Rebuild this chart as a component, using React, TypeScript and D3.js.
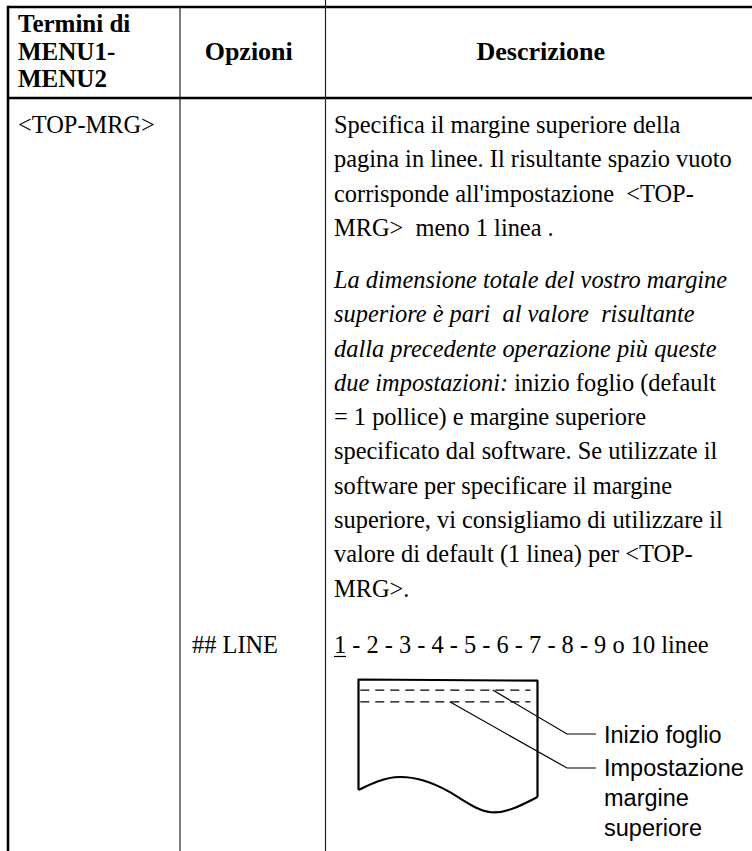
import { useEffect, useRef } from 'react';
import * as d3 from 'd3';

// header cells
const headTerms = ['Termini di', 'MENU1-', 'MENU2'];
const headOptions = 'Opzioni';
const headDesc = 'Descrizione';

// body cells
const rowTerm = '<TOP-MRG>';
const rowOption = '## LINE';
const descPara1 = [
    'Specifica il margine superiore della',
    'pagina in linee. Il risultante spazio vuoto',
    "corrisponde all'impostazione  <TOP-",
    'MRG>  meno 1 linea .',
];
// [italic part, roman part]
const descPara2: [string, string][] = [
    ['La dimensione totale del vostro margine', ''],
    ['superiore è pari  al valore  risultante', ''],
    ['dalla precedente operazione più queste', ''],
    ['due impostazioni:', ' inizio foglio (default'],
    ['', '= 1 pollice) e margine superiore'],
    ['', 'specificato dal software. Se utilizzate il'],
    ['', 'software per specificare il margine'],
    ['', 'superiore, vi consigliamo di utilizzare il'],
    ['', 'valore di default (1 linea) per <TOP-'],
    ['', 'MRG>.'],
];
const lineChoices = ['1', '2', '3', '4', '5', '6', '7', '8', '9'];
const lineLast = '10 linee';

// diagram labels
const labelTop = ['Inizio foglio'];
const labelMargin = ['Impostazione', 'margine', 'superiore'];

// paper outline in diagram units (0..100 wide, 0..100 tall)
const paperTop = [[0, 0], [100, 1]];
const paperWave = [[0, 94], [23, 83], [50, 95], [74, 113], [100, 100]];
const dashRows = [9, 19];
const leaderStarts = [[75, 9], [51, 19]];

function App() {
    const svgRef = useRef(null);

    useEffect(() => {
        draw();
    }, []);

    function draw() {
        const svg = d3.select(svgRef.current);
        svg.selectAll('*').remove();

        const W = 752;
        const H = 851;
        const col = { left: 8, c1: 180, c2: 325.5, right: W };
        const top = 7;
        const headBottom = 98;
        const serif = '"Liberation Serif", "Times New Roman", serif';
        const sans = '"Liberation Sans", Arial, sans-serif';
        const fs = 24.4;
        const hfs = 25;

        // grid lines
        const g = svg.append('g');
        g.append('line').attr('x1', col.left).attr('x2', col.right).attr('y1', top).attr('y2', top)
            .attr('stroke', '#000').attr('stroke-width', 2.6);
        g.append('line').attr('x1', col.left).attr('x2', col.right).attr('y1', headBottom).attr('y2', headBottom)
            .attr('stroke', '#000').attr('stroke-width', 2.6);
        g.append('line').attr('x1', col.left).attr('x2', col.left).attr('y1', top - 1.3).attr('y2', H)
            .attr('stroke', '#000').attr('stroke-width', 2.6);
        g.append('line').attr('x1', col.c1).attr('x2', col.c1).attr('y1', top).attr('y2', H)
            .attr('stroke', '#222').attr('stroke-width', 1.2);
        g.append('line').attr('x1', col.c2).attr('x2', col.c2).attr('y1', 0).attr('y2', H)
            .attr('stroke', '#222').attr('stroke-width', 1.2);

        // header
        const headY = d3.scaleLinear().domain([0, 2]).range([32, 87]);
        g.selectAll('.headTerm').data(headTerms).enter().append('text')
            .attr('x', col.left + 10).attr('y', (_d, i) => headY(i))
            .attr('font-family', serif).attr('font-weight', 'bold').attr('font-size', hfs)
            .text((d) => d);
        g.append('text').attr('x', (col.c1 + col.c2) / 2 - 4).attr('y', headY(1))
            .attr('text-anchor', 'middle').attr('font-family', serif).attr('font-weight', 'bold')
            .attr('font-size', hfs + 1).text(headOptions);
        g.append('text').attr('x', (col.c2 + col.right) / 2 + 2).attr('y', headY(1))
            .attr('text-anchor', 'middle').attr('font-family', serif).attr('font-weight', 'bold')
            .attr('font-size', hfs + 1).text(headDesc);

        // body rows
        const lh = 34.3;
        const p1Y = (i: number) => 133 + i * lh;
        const p2Start = p1Y(3) + 52;
        const p2Y = (i: number) => p2Start + i * lh;
        const choiceY = 653;
        const tx = col.c2 + 8.5;

        g.append('text').attr('x', col.left + 10).attr('y', p1Y(0))
            .attr('font-family', serif).attr('font-size', fs).text(rowTerm);
        g.append('text').attr('x', col.c1 + 12).attr('y', choiceY)
            .attr('font-family', serif).attr('font-size', fs).text(rowOption);

        g.selectAll('.p1').data(descPara1).enter().append('text')
            .attr('x', tx).attr('y', (_d, i) => p1Y(i))
            .attr('font-family', serif).attr('font-size', fs)
            .style('white-space', 'pre').text((d) => d);

        const p2 = g.selectAll('.p2').data(descPara2).enter().append('text')
            .attr('x', tx).attr('y', (_d, i) => p2Y(i))
            .attr('font-family', serif).attr('font-size', fs).style('white-space', 'pre');
        p2.append('tspan').attr('font-style', 'italic').text((d) => d[0]);
        p2.append('tspan').text((d) => d[1]);

        const choice = g.append('text').attr('x', tx).attr('y', choiceY)
            .attr('font-family', serif).attr('font-size', fs);
        choice.append('tspan').text(lineChoices[0]);
        choice.append('tspan').text(' - ' + lineChoices.slice(1).join(' - ') + ' o ' + lineLast);
        g.append('line').attr('x1', tx).attr('x2', tx + 12).attr('y1', choiceY + 3.5).attr('y2', choiceY + 3.5)
            .attr('stroke', '#000').attr('stroke-width', 1.2);

        // diagram
        const px = d3.scaleLinear().domain([0, 100]).range([358.5, 537.5]);
        const py = d3.scaleLinear().domain([0, 100]).range([679.5, 797]);
        const d = svg.append('g');
        const wave = d3.line().x((p: any) => px(p[0])).y((p: any) => py(p[1])).curve(d3.curveNatural);
        const outline = d3.path();
        outline.moveTo(px(paperWave[0][0]), py(paperWave[0][1]));
        outline.lineTo(px(paperTop[0][0]), py(paperTop[0][1]));
        outline.lineTo(px(paperTop[1][0]), py(paperTop[1][1]));
        outline.lineTo(px(100), py(paperWave[paperWave.length - 1][1]));
        d.append('path').attr('d', outline.toString()).attr('fill', 'none')
            .attr('stroke', '#000').attr('stroke-width', 2.2).attr('stroke-linejoin', 'round');
        d.append('path').attr('d', wave(paperWave as any)).attr('fill', 'none')
            .attr('stroke', '#000').attr('stroke-width', 2.2);

        d.selectAll('.dash').data(dashRows).enter().append('line')
            .attr('x1', px(1)).attr('x2', px(96)).attr('y1', (r) => py(r)).attr('y2', (r) => py(r))
            .attr('stroke', '#000').attr('stroke-width', 1.3).attr('stroke-dasharray', '9,6');

        const labelX = 604;
        const bendY = [734, 768];
        leaderStarts.forEach((s, i) => {
            d.append('polyline')
                .attr('points', `${px(s[0])},${py(s[1])} 567,${bendY[i]} ${labelX - 8},${bendY[i]}`)
                .attr('fill', 'none').attr('stroke', '#000').attr('stroke-width', 1.2);
        });

        const lfs = 23.5;
        d.selectAll('.lt').data(labelTop).enter().append('text')
            .attr('x', labelX).attr('y', 743).attr('font-family', sans).attr('font-size', lfs)
            .text((t) => t);
        const labY = d3.scaleLinear().domain([0, 2]).range([776, 836]);
        d.selectAll('.lm').data(labelMargin).enter().append('text')
            .attr('x', labelX).attr('y', (_t, i) => labY(i)).attr('font-family', sans).attr('font-size', lfs)
            .text((t) => t);
    }

    return (
        <svg ref={svgRef} width={752} height={851}
            style={{ position: 'absolute', left: 0, top: 0, background: '#fff' }} />
    );
}

export default App;
